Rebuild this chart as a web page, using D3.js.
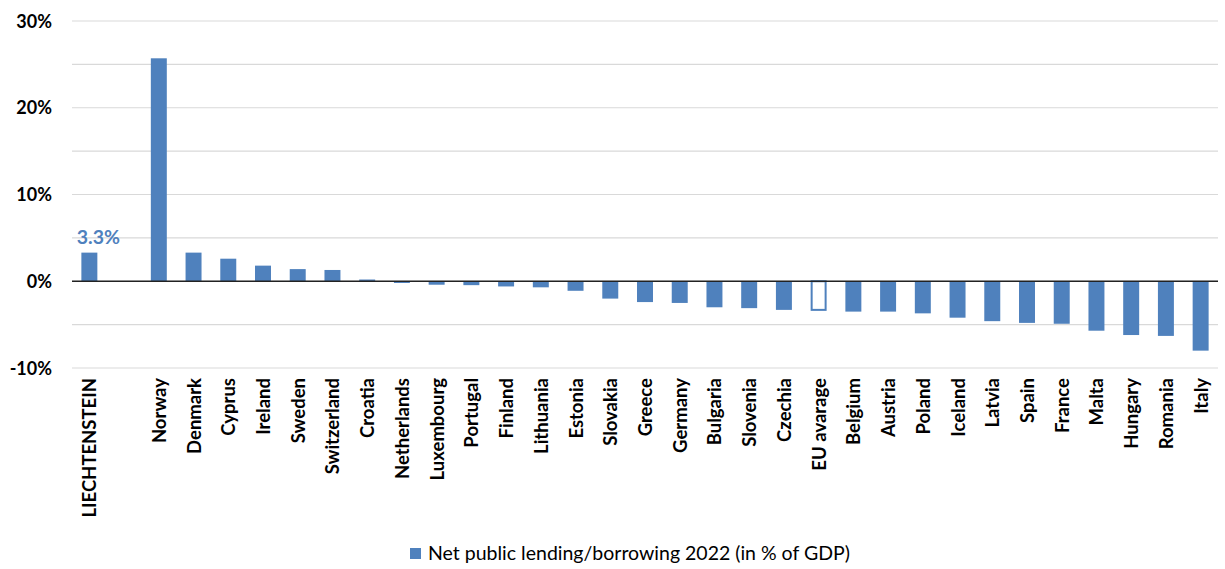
<!DOCTYPE html>
<html><head><meta charset="utf-8">
<script src="https://cdn.jsdelivr.net/npm/d3@7"></script>
<style>body{margin:0;background:#fff}svg{display:block}text{font-family:Lato,"Open Sans",sans-serif}</style>
</head><body><svg id="c" width="1225" height="569"></svg>
<script>
const categories = ["LIECHTENSTEIN","","Norway","Denmark","Cyprus","Ireland","Sweden","Switzerland","Croatia","Netherlands","Luxembourg","Portugal","Finland","Lithuania","Estonia","Slovakia","Greece","Germany","Bulgaria","Slovenia","Czechia","EU avarage","Belgium","Austria","Poland","Iceland","Latvia","Spain","France","Malta","Hungary","Romania","Italy"];
const values = [3.3,null,25.7,3.3,2.6,1.8,1.4,1.3,0.2,-0.2,-0.4,-0.45,-0.6,-0.7,-1.1,-2.0,-2.4,-2.5,-3.0,-3.1,-3.3,-3.3,-3.5,-3.5,-3.7,-4.2,-4.6,-4.8,-4.9,-5.7,-6.2,-6.3,-8.0];
const yTicks = [-10,0,10,20,30];
const gridValues = [-10,-5,0,5,10,15,20,25,30];
const seriesName = "Net public lending/borrowing 2022 (in % of GDP)";
const highlightLabel = {category:"LIECHTENSTEIN", text:"3.3%"};
const outlinedCategory = "EU avarage";

const svg = d3.select("#c");
const color = "#4F81BD";
const x = d3.scaleBand().domain(categories.map((d,i)=>i)).range([72,1218]).paddingInner(0.54).paddingOuter(0.27);
const y = d3.scaleLinear().domain([-10,30]).range([368,21]);

svg.append("g").selectAll("line").data(gridValues).join("line")
  .attr("x1",72).attr("x2",1218).attr("y1",d=>y(d)).attr("y2",d=>y(d))
  .attr("stroke","#d9d9d9").attr("stroke-width",1.2);

svg.append("g").selectAll("text").data(yTicks).join("text")
  .attr("x",52).attr("y",d=>y(d)+6.5).attr("text-anchor","end")
  .attr("font-size",18).attr("font-weight","bold").attr("fill","#000")
  .text(d=>d+"%");

const data = categories.map((c,i)=>({c,i,v:values[i]})).filter(d=>d.v!==null);
svg.append("g").selectAll("rect").data(data).join("rect")
  .attr("x",d=>x(d.i)+(d.c===outlinedCategory?1:0))
  .attr("width",d=>x.bandwidth()-(d.c===outlinedCategory?2:0))
  .attr("y",d=>y(Math.max(0,d.v)))
  .attr("height",d=>Math.abs(y(d.v)-y(0)))
  .attr("fill",d=>d.c===outlinedCategory?"#fff":color)
  .attr("stroke",d=>d.c===outlinedCategory?color:"none")
  .attr("stroke-width",2);

svg.append("line").attr("x1",72).attr("x2",1218).attr("y1",y(0)).attr("y2",y(0))
  .attr("stroke","#222").attr("stroke-width",1.5);

svg.append("g").selectAll("text").data(categories.map((c,i)=>({c,i}))).join("text")
  .attr("transform",d=>`translate(${x(d.i)+x.bandwidth()/2+7},378) rotate(-90)`)
  .attr("text-anchor","end").attr("font-size",18.5).attr("font-weight","bold").attr("fill","#000")
  .text(d=>d.c);

const hi = categories.indexOf(highlightLabel.category);
svg.append("text").attr("x",x(hi)+x.bandwidth()/2+9).attr("y",y(values[hi])-9)
  .attr("text-anchor","middle").attr("font-size",19.5).attr("font-weight","bold").attr("fill",color)
  .text(highlightLabel.text);

const lg = svg.append("g").attr("transform","translate(410,548)");
lg.append("rect").attr("width",11).attr("height",11).attr("fill",color);
lg.append("text").attr("x",18).attr("y",12).attr("font-size",19.5).attr("fill","#000").text(seriesName);
</script></body></html>
